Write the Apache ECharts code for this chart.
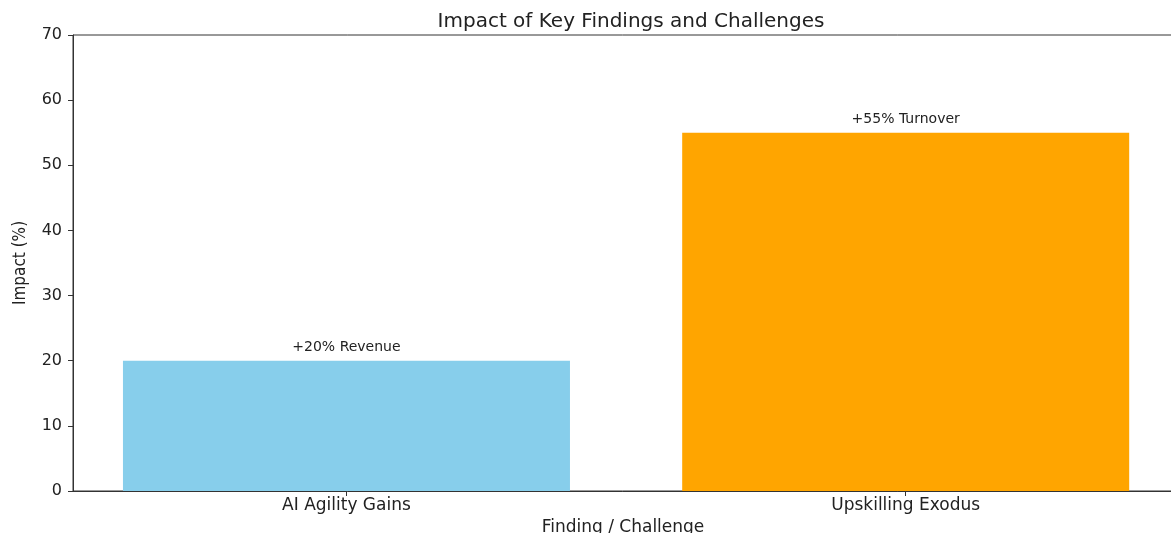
<!DOCTYPE html>
<html>
<head>
<meta charset="utf-8">
<script src="https://cdn.jsdelivr.net/npm/echarts@6/dist/echarts.min.js"></script>
<style>
  html, body { margin: 0; padding: 0; background: #fff; }
  #chart { width: 1171px; height: 533px; }
</style>
</head>
<body>
<div id="chart"></div>
<script>
  var categories = ['AI Agility Gains', 'Upskilling Exodus']
  var impactValues = [20, 55]
  var barLabels = ['+20% Revenue', '+55% Turnover']
  var barColors = ['#87CEEB', '#FFA500']
  var yTicks = [0, 10, 20, 30, 40, 50, 60, 70]

  var font = '"DejaVu Sans", sans-serif'
  var chart = echarts.init(document.getElementById('chart'))

  var option = {
    animation: false,
    title: {
      text: 'Impact of Key Findings and Challenges',
      left: 626,
      textAlign: 'center',
      top: 7,
      textStyle: { fontFamily: font, fontSize: 20, fontWeight: 'normal', color: '#222' }
    },
    grid: {
      left: 73, right: -2, top: 35, bottom: 42,
      outerBoundsMode: 'none',
      containLabel: false,
      show: true, borderColor: '#333', borderWidth: 1
    },
    xAxis: {
      type: 'value',
      min: -0.489,
      max: 1.478,
      splitLine: { show: false },
      axisLine: { show: true, onZero: false, lineStyle: { color: '#333' } },
      axisTick: { show: true, customValues: [0, 1], length: 5, lineStyle: { color: '#333' } },
      axisLabel: {
        customValues: [0, 1],
        formatter: function (v) { return categories[Math.round(v)] },
        fontFamily: font, fontSize: 17, color: '#222', margin: 6
      },
      name: 'Finding / Challenge',
      nameLocation: 'middle',
      nameGap: 24,
      nameTextStyle: { fontFamily: font, fontSize: 17, color: '#222' }
    },
    yAxis: {
      type: 'value',
      min: yTicks[0],
      max: yTicks[yTicks.length - 1],
      interval: 10,
      splitLine: { show: false },
      axisLine: { show: true, onZero: false, lineStyle: { color: '#333' } },
      axisTick: { show: true, length: 5, lineStyle: { color: '#333' } },
      axisLabel: { fontFamily: font, fontSize: 16, color: '#222', margin: 11 },
      name: 'Impact (%)',
      nameLocation: 'middle',
      nameGap: 44,
      nameTextStyle: { fontFamily: '"Liberation Sans Narrow", "DejaVu Sans Condensed", sans-serif', fontSize: 17, color: '#222' }
    },
    series: [{
      type: 'bar',
      barWidth: 447,
      data: impactValues.map(function (v, i) {
        return {
          value: [i, v],
          itemStyle: { color: barColors[i] },
          label: { formatter: barLabels[i] }
        }
      }),
      label: {
        show: true,
        position: 'top',
        distance: 6,
        fontFamily: font,
        fontSize: 14,
        color: '#222'
      }
    }]
  }
  chart.setOption(option)
</script>
</body>
</html>
